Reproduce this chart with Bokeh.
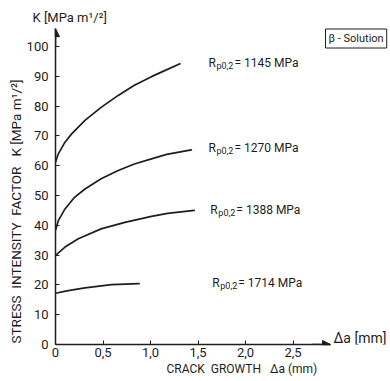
from bokeh.plotting import figure
from bokeh.models import Range1d, FixedTicker, Label, Arrow, NormalHead, Title
from bokeh.embed import file_html
from bokeh.resources import INLINE

# ---- data ----
x_ticks = [0, 0.5, 1.0, 1.5, 2.0, 2.5]
x_tick_labels = ["0", "0,5", "1,0", "1,5", "2,0", "2,5"]
y_ticks = [0, 10, 20, 30, 40, 50, 60, 70, 80, 90, 100]

da_1145 = [0.0, 0.03, 0.10, 0.17, 0.31, 0.48, 0.66, 0.83, 1.01, 1.12, 1.31]
k_1145 = [61.2, 64.0, 67.9, 70.7, 75.2, 79.6, 83.6, 87.0, 89.9, 91.5, 94.2]

da_1270 = [0.0, 0.03, 0.10, 0.20, 0.31, 0.48, 0.66, 0.83, 1.01, 1.17, 1.43]
k_1270 = [38.3, 41.6, 45.5, 49.4, 52.2, 55.6, 58.4, 60.6, 62.3, 63.8, 65.3]

da_1388 = [0.0, 0.10, 0.24, 0.48, 0.73, 1.01, 1.18, 1.46]
k_1388 = [29.9, 32.7, 35.5, 38.8, 41.0, 43.0, 44.0, 45.0]

da_1714 = [0.0, 0.12, 0.31, 0.59, 0.88]
k_1714 = [17.2, 18.0, 19.0, 20.1, 20.4]

strengths = ["1145", "1270", "1388", "1714"]
label_x = [1.61, 1.61, 1.63, 1.65]
label_y = [94.6, 65.8, 45.0, 20.6]

FONT = "Roboto"
INK = "#1e1e1e"
NB = "\u00a0"

X_END = 3.526
Y_END = 107.4

p = figure(width=390, height=381, x_range=Range1d(0, X_END), y_range=Range1d(0, Y_END),
           output_backend="svg", toolbar_location=None,
           min_border_left=55, min_border_right=0, min_border_top=24, min_border_bottom=37)
p.outline_line_color = None
p.grid.visible = False
p.background_fill_color = "white"

for ax in (p.xaxis, p.yaxis):
    ax.axis_line_color = INK
    ax.axis_line_width = 1.5
    ax.major_tick_line_color = INK
    ax.major_tick_in = 4
    ax.major_tick_out = 0
    ax.minor_tick_line_color = None
    ax.major_label_text_font = FONT
    ax.major_label_text_font_size = "13px"
    ax.major_label_text_color = INK

p.xaxis.ticker = FixedTicker(ticks=x_ticks)
p.xaxis.major_label_overrides = {t: l for t, l in zip(x_ticks, x_tick_labels)}
p.xaxis.major_label_standoff = 3
p.xaxis.bounds = (0, 2.895)
p.yaxis.ticker = FixedTicker(ticks=y_ticks)
p.yaxis.major_label_standoff = 7
p.yaxis.bounds = (0, 106)

# arrow heads on the axes
p.add_layout(Arrow(end=NormalHead(size=8, fill_color=INK, line_color=INK),
                   x_start=0, y_start=100, x_end=0, y_end=106, line_color=INK, line_width=1.5))
p.add_layout(Arrow(end=NormalHead(size=8, fill_color=INK, line_color=INK),
                   x_start=2.7, y_start=0, x_end=2.895, y_end=0, line_color=INK, line_width=1.5))

for xs, ys in [(da_1145, k_1145), (da_1270, k_1270), (da_1388, k_1388), (da_1714, k_1714)]:
    p.line(xs, ys, line_color=INK, line_width=1.7, line_join="round", line_cap="round")

for s, lx, ly in zip(strengths, label_x, label_y):
    p.add_layout(Label(x=lx, y=ly, text="R", text_font=FONT, text_font_size="12px",
                       text_color=INK, text_baseline="middle"))
    p.add_layout(Label(x=lx, y=ly, x_offset=8, y_offset=-3, text="p0,2", text_font=FONT,
                       text_font_size="9px", text_color=INK, text_baseline="middle"))
    p.add_layout(Label(x=lx, y=ly, x_offset=26, text="= " + s + " MPa", text_font=FONT,
                       text_font_size="12px", text_color=INK, text_baseline="middle"))

# top (y-axis end) title
p.title.text = "K [MPa m\u00b9/\u00b2]"
p.title.align = "left"
p.title.offset = -23
p.title.standoff = 0
p.title.text_font = FONT
p.title.text_font_size = "13px"
p.title.text_font_style = "normal"
p.title.text_color = INK

# vertical y title
p.add_layout(Title(text="STRESS" + NB * 2 + "INTENSITY" + NB * 2 + "FACTOR" + NB * 3 + "K [MPa m\u00b9/\u00b2]",
                   align="left", offset=1, standoff=0, text_font=FONT, text_font_size="13.5px",
                   text_font_style="normal", text_color=INK), "left")

# x title
p.add_layout(Title(text="CRACK" + NB * 2 + "GROWTH" + NB * 3 + "\u0394a (mm)", align="left", offset=111,
                   standoff=0, text_font=FONT, text_font_size="12px", text_font_style="normal",
                   text_color=INK), "below")

p.add_layout(Label(x=2.926, y=2.3, text="\u0394a [mm]", text_font=FONT,
                   text_font_size="14px", text_color=INK, text_baseline="middle"))

p.add_layout(Label(x=2.842, y=102.7, text="\u03b2 - Solution", text_font=FONT,
                   text_font_size="11px", text_color=INK, text_baseline="middle",
                   border_line_color=INK, border_line_width=1, padding=3))

open("out.html", "w").write(file_html(p, INLINE))
